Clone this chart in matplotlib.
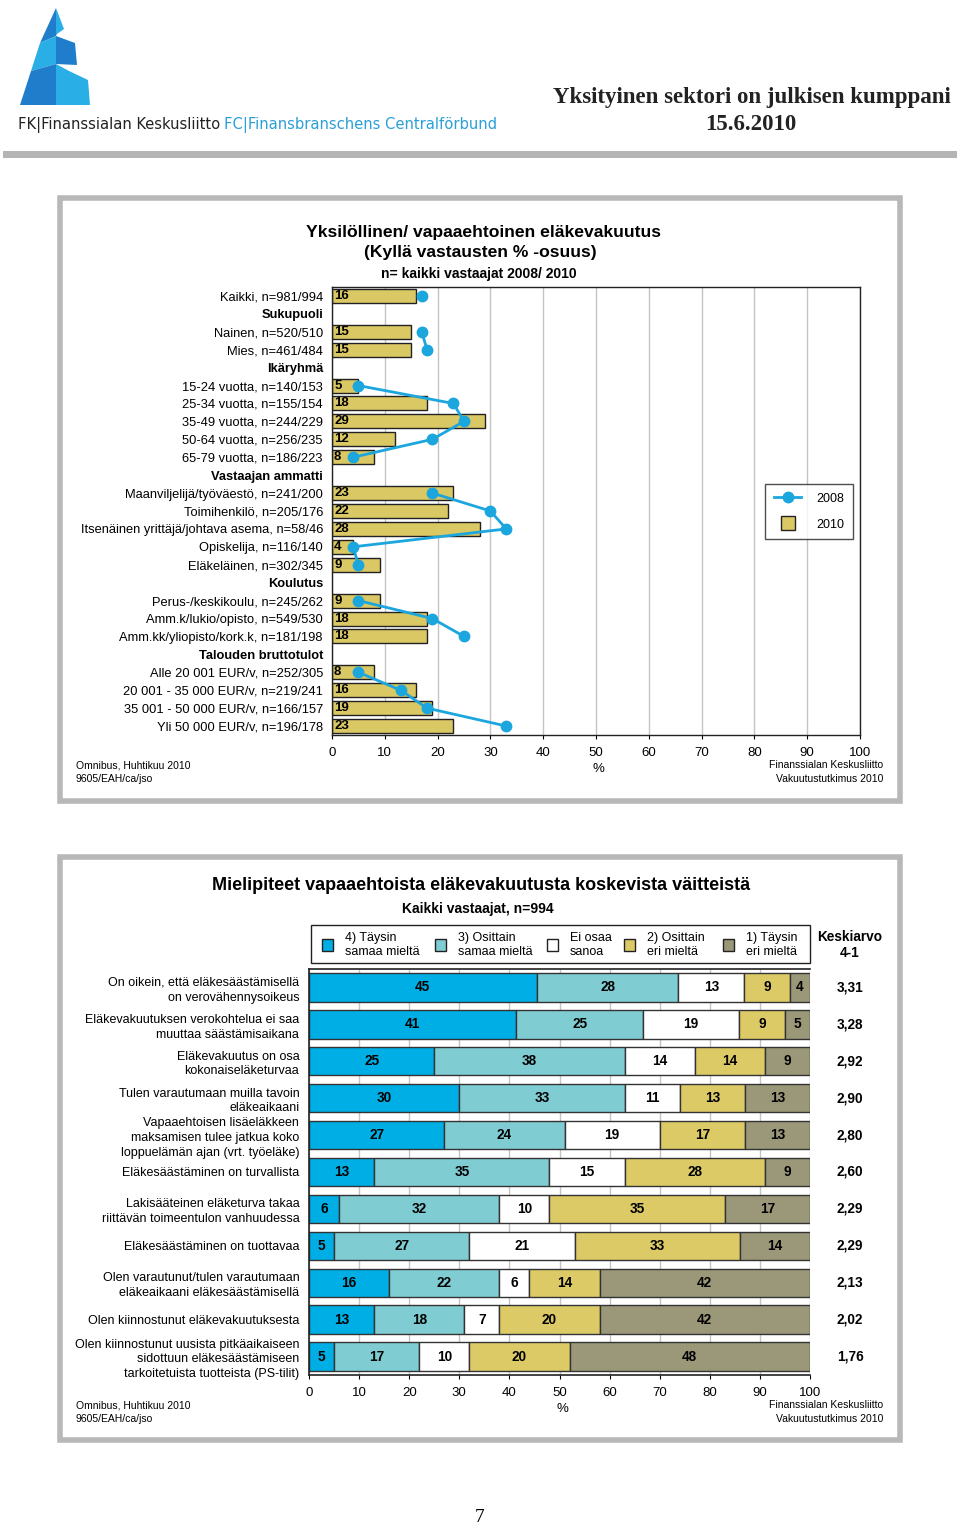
import numpy as np
import matplotlib
matplotlib.use("Agg")
import matplotlib.pyplot as plt
from matplotlib.patches import Rectangle, Polygon
from matplotlib.lines import Line2D

plt.rcParams["font.family"] = ["Liberation Sans", "DejaVu Sans"]

W, H = 960, 1529

# --- top chart data ---
top_labels = [
    "Kaikki, n=981/994", "Sukupuoli", "Nainen, n=520/510", "Mies, n=461/484",
    "Ikäryhmä", "15-24 vuotta, n=140/153", "25-34 vuotta, n=155/154",
    "35-49 vuotta, n=244/229", "50-64 vuotta, n=256/235", "65-79 vuotta, n=186/223",
    "Vastaajan ammatti", "Maanviljelijä/työväestö, n=241/200", "Toimihenkilö, n=205/176",
    "Itsenäinen yrittäjä/johtava asema, n=58/46", "Opiskelija, n=116/140",
    "Eläkeläinen, n=302/345", "Koulutus", "Perus-/keskikoulu, n=245/262",
    "Amm.k/lukio/opisto, n=549/530", "Amm.kk/yliopisto/kork.k, n=181/198",
    "Talouden bruttotulot", "Alle 20 001 EUR/v, n=252/305",
    "20 001 - 35 000 EUR/v, n=219/241", "35 001 - 50 000 EUR/v, n=166/157",
    "Yli 50 000 EUR/v, n=196/178",
]
top_headers = ["Sukupuoli", "Ikäryhmä", "Vastaajan ammatti", "Koulutus", "Talouden bruttotulot"]
values_2010 = [16, None, 15, 15, None, 5, 18, 29, 12, 8, None, 23, 22, 28, 4, 9,
               None, 9, 18, 18, None, 8, 16, 19, 23]
values_2008 = [17, None, 17, 18, None, 5, 23, 25, 19, 4, None, 19, 30, 33, 4, 5,
               None, 5, 19, 25, None, 5, 13, 18, 33]

# --- bottom chart data ---
statements = [
    "On oikein, että eläkesäästämisellä\non verovähennysoikeus",
    "Eläkevakuutuksen verokohtelua ei saa\nmuuttaa säästämisaikana",
    "Eläkevakuutus on osa\nkokonaiseläketurvaa",
    "Tulen varautumaan muilla tavoin\neläkeaikaani",
    "Vapaaehtoisen lisäeläkkeen\nmaksamisen tulee jatkua koko\nloppuelämän ajan (vrt. työeläke)",
    "Eläkesäästäminen on turvallista",
    "Lakisääteinen eläketurva takaa\nriittävän toimeentulon vanhuudessa",
    "Eläkesäästäminen on tuottavaa",
    "Olen varautunut/tulen varautumaan\neläkeaikaani eläkesäästämisellä",
    "Olen kiinnostunut eläkevakuutuksesta",
    "Olen kiinnostunut uusista pitkäaikaiseen\nsidottuun eläkesäästämiseen\ntarkoitetuista tuotteista (PS-tilit)",
]
taysin_samaa = [45, 41, 25, 30, 27, 13, 6, 5, 16, 13, 5]
osittain_samaa = [28, 25, 38, 33, 24, 35, 32, 27, 22, 18, 17]
ei_osaa = [13, 19, 14, 11, 19, 15, 10, 21, 6, 7, 10]
osittain_eri = [9, 9, 14, 13, 17, 28, 35, 33, 14, 20, 20]
taysin_eri = [4, 5, 9, 13, 13, 9, 17, 14, 42, 42, 48]
keskiarvo = [3.31, 3.28, 2.92, 2.90, 2.80, 2.60, 2.29, 2.29, 2.13, 2.02, 1.76]
legend_labels = ["4) Täysin\nsamaa mieltä", "3) Osittain\nsamaa mieltä", "Ei osaa\nsanoa",
                 "2) Osittain\neri mieltä", "1) Täysin\neri mieltä"]
seg_colors = ["#00aee6", "#7fccd3", "#ffffff", "#dbca66", "#9b9779"]

bar_yellow = "#d9c864"
line_blue = "#1ba6de"


def fx(px):
    return px / W


def fy(py):
    return 1 - py / H


fig = plt.figure(figsize=(W / 100, H / 100), dpi=100)

# ---------- header ----------
logo_dark = "#1f7dcc"
logo_light = "#2aaee6"
logo_parts = [
    ([(56, 8), (56, 36), (40, 43)], logo_dark),
    ([(56, 8), (64, 29), (57, 34), (56, 36)], logo_light),
    ([(40, 43), (56, 36), (56, 64), (31, 71)], logo_light),
    ([(56, 36), (75, 43), (77, 65), (56, 64)], logo_dark),
    ([(31, 71), (56, 64), (56, 105), (20, 105)], logo_dark),
    ([(56, 64), (69, 71), (88, 80), (90, 105), (56, 105)], logo_light),
]
for pts, col in logo_parts:
    fig.patches.append(Polygon([(fx(x), fy(y)) for x, y in pts], closed=True,
                               facecolor=col, edgecolor="none",
                               transform=fig.transFigure, figure=fig))

fk = fig.text(fx(18), fy(125), "FK|Finanssialan Keskusliitto", fontsize=11.75,
              family="DejaVu Sans", stretch="condensed", color="#222222", va="center")
fig.canvas.draw()
fk_right = fk.get_window_extent().x1
fig.text(fk_right / W + fx(4), fy(125), "FC|Finansbranschens Centralförbund", fontsize=11.75,
         family="DejaVu Sans", stretch="condensed", color="#2a9fd8", va="center")
fig.text(fx(752), fy(97), "Yksityinen sektori on julkisen kumppani", fontsize=16.5,
         family=["Liberation Serif", "DejaVu Serif"], weight="bold", color="#222222",
         ha="center", va="center")
fig.text(fx(751), fy(125), "15.6.2010", fontsize=16.5, weight="bold",
         family=["Liberation Serif", "DejaVu Serif"], color="#222222", ha="center", va="center")
fig.patches.append(Rectangle((fx(3), fy(158)), fx(954), 7 / H, facecolor="#b4b4b4",
                             edgecolor="none", transform=fig.transFigure, figure=fig))


def panel_frame(x0, y0, x1, y1):
    fig.patches.append(Rectangle((fx(x0), fy(y1)), fx(x1 - x0), (y1 - y0) / H,
                                 facecolor="white", edgecolor="#b8b8b8", linewidth=4,
                                 transform=fig.transFigure, figure=fig, zorder=-5))


# ---------- top panel ----------
panel_frame(60, 198, 900, 801)
fig.text(fx(483), fy(233), "Yksilöllinen/ vapaaehtoinen eläkevakuutus", fontsize=12.6,
         weight="bold", ha="center", va="center")
fig.text(fx(480), fy(253), "(Kyllä vastausten % -osuus)", fontsize=12.6,
         weight="bold", ha="center", va="center")
fig.text(fx(479), fy(274), "n= kaikki vastaajat 2008/ 2010", fontsize=10,
         weight="bold", ha="center", va="center")

ax1 = fig.add_axes([fx(332), fy(735), fx(860 - 332), (735 - 287) / H])
ax1.patch.set_alpha(0)
n_rows = len(top_labels)
ypos = np.arange(n_rows)
for i, v in enumerate(values_2010):
    if v is None:
        continue
    ax1.barh(i, v, height=0.78, color=bar_yellow, edgecolor="#222222", linewidth=1, zorder=2)
    ax1.text(0.4, i, str(v), fontsize=9.5, weight="bold", va="center", ha="left", zorder=4)
v08 = np.array([np.nan if v is None else v for v in values_2008], dtype=float)
ax1.plot(v08, ypos, color=line_blue, linewidth=2, marker="o", markersize=7.5, zorder=3)
ax1.set_xlim(0, 100)
ax1.set_ylim(n_rows - 0.5, -0.5)
ax1.set_xticks(np.arange(0, 101, 10))
ax1.tick_params(axis="x", length=3, labelsize=9.5, pad=6)
ax1.set_yticks(ypos)
ax1.set_yticklabels(top_labels, fontsize=9.3)
ax1.tick_params(axis="y", length=0, pad=6.5)
for lbl in ax1.get_yticklabels():
    if lbl.get_text() in top_headers:
        lbl.set_fontweight("bold")
ax1.grid(axis="x", color="#c4c4c4", linewidth=1, zorder=0)
ax1.set_axisbelow(True)
for s in ax1.spines.values():
    s.set_color("#222222")
    s.set_linewidth(1)
fig.text(fx(598), fy(769), "%", fontsize=9.5, ha="center", va="center")

leg1 = ax1.legend(handles=[
    Line2D([], [], color=line_blue, linewidth=2, marker="o", markersize=7.5, label="2008"),
    Line2D([], [], linestyle="none", marker="s", markersize=10, markerfacecolor=bar_yellow,
           markeredgecolor="#222222", markeredgewidth=1, label="2010")],
    loc="upper left", bbox_to_anchor=((765 - 332) / 528, 1 - (484 - 287) / 448),
    fontsize=9, frameon=True, fancybox=False, edgecolor="#222222", handlelength=2.2,
    labelspacing=1.1, borderpad=0.7, handletextpad=1.2, borderaxespad=0)
leg1.get_frame().set_linewidth(1)

for y, t in [(765, "Omnibus, Huhtikuu 2010"), (779, "9605/EAH/ca/jso")]:
    fig.text(fx(76), fy(y), t, fontsize=7.5, va="center")
for y, t in [(765, "Finanssialan Keskusliitto"), (779, "Vakuutustutkimus 2010")]:
    fig.text(fx(883), fy(y), t, fontsize=7.5, va="center", ha="right")

# ---------- bottom panel ----------
panel_frame(60, 857, 900, 1440)
fig.text(fx(481), fy(885), "Mielipiteet vapaaehtoista eläkevakuutusta koskevista väitteistä",
         fontsize=13, weight="bold", ha="center", va="center")
fig.text(fx(478), fy(909), "Kaikki vastaajat, n=994", fontsize=10,
         weight="bold", ha="center", va="center")

ax2 = fig.add_axes([fx(309), fy(1375), fx(810 - 309), (1375 - 969) / H])
ax2.patch.set_alpha(0)
segments = np.array([taysin_samaa, osittain_samaa, ei_osaa, osittain_eri, taysin_eri], dtype=float)
totals = segments.sum(axis=0)
shares = segments / totals * 100
rows = np.arange(len(statements))
left = np.zeros(len(statements))
for k in range(len(segments)):
    ax2.barh(rows, shares[k], left=left, height=0.77, color=seg_colors[k],
             edgecolor="#333333", linewidth=1, zorder=2)
    for r in rows:
        ax2.text(left[r] + shares[k][r] / 2, r, str(int(segments[k][r])), fontsize=9.8,
                 weight="bold", ha="center", va="center", zorder=4)
    left += shares[k]
ax2.set_xlim(0, 100)
ax2.set_ylim(len(statements) - 0.5, -0.5)
ax2.set_xticks(np.arange(0, 101, 10))
ax2.tick_params(axis="x", length=3, labelsize=9.5, pad=6)
ax2.set_yticks(rows)
ax2.set_yticklabels(statements, fontsize=9, linespacing=1.3)
ax2.tick_params(axis="y", length=0, pad=7)
ax2.grid(axis="x", color="#c4c4c4", linewidth=1, zorder=0)
ax2.set_axisbelow(True)
ax2.spines["right"].set_visible(False)
for s in ["left", "top", "bottom"]:
    ax2.spines[s].set_color("#222222")
    ax2.spines[s].set_linewidth(1.2)
for r in rows:
    ax2.text(108, r, f"{keskiarvo[r]:.2f}".replace(".", ","), fontsize=9.8,
             weight="bold", ha="center", va="center", clip_on=False)
fig.text(fx(562), fy(1409), "%", fontsize=9.5, ha="center", va="center")

# legend box above bottom chart
leg_x = [322, 435, 547, 624, 723]
fig.patches.append(Rectangle((fx(311), fy(963)), fx(810 - 311), (963 - 925) / H,
                             facecolor="white", edgecolor="#222222", linewidth=1,
                             transform=fig.transFigure, figure=fig))
for k, (px, lab) in enumerate(zip(leg_x, legend_labels)):
    fig.patches.append(Rectangle((fx(px), fy(951)), fx(11), 12 / H,
                                 facecolor=seg_colors[k], edgecolor="#222222", linewidth=1,
                                 transform=fig.transFigure, figure=fig))
    fig.text(fx(px + 23), fy(945), lab, fontsize=9, va="center", ha="left",
             linespacing=1.2)
fig.text(fx(850), fy(945), "Keskiarvo\n4-1", fontsize=9.8, weight="bold",
         ha="center", va="center", linespacing=1.25)

for y, t in [(1405, "Omnibus, Huhtikuu 2010"), (1419, "9605/EAH/ca/jso")]:
    fig.text(fx(76), fy(y), t, fontsize=7.5, va="center")
for y, t in [(1405, "Finanssialan Keskusliitto"), (1419, "Vakuutustutkimus 2010")]:
    fig.text(fx(883), fy(y), t, fontsize=7.5, va="center", ha="right")

fig.text(fx(480), fy(1517), "7", fontsize=14, family=["Liberation Serif", "DejaVu Serif"],
         ha="center", va="center")

fig.savefig("out.png", dpi=100)
